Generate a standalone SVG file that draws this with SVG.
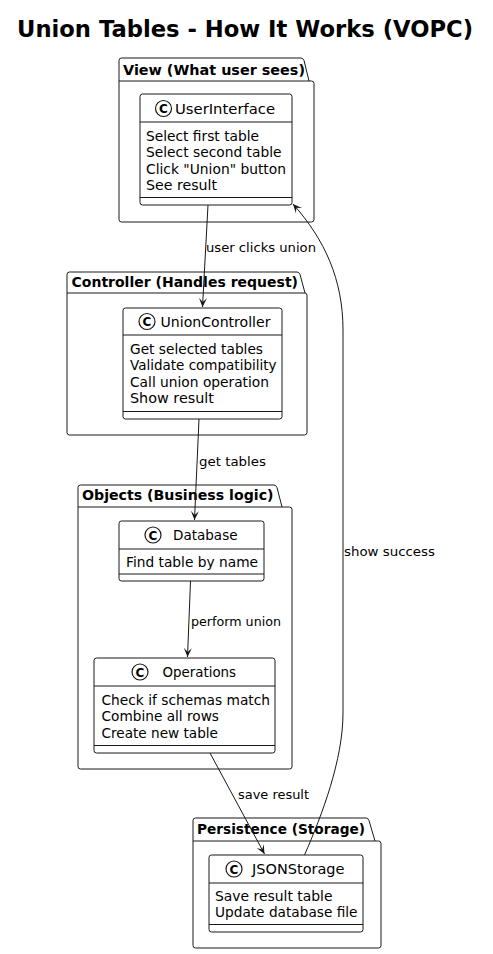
<svg xmlns="http://www.w3.org/2000/svg" width="493" height="954" viewBox="0 0 493 954">
<defs>
<style>
text{font-family:"DejaVu Sans","Liberation Sans",sans-serif;fill:#000}
.title{font-size:22.5px;font-weight:bold}
.pkg path{fill:#fff;stroke:#181818;stroke-width:1}
.pkg line{stroke:#181818;stroke-width:1}
.pl{font-size:14px;font-weight:bold}
.cls rect{fill:#fff;stroke:#181818;stroke-width:1}
.cls line{stroke:#181818;stroke-width:1}
.ci{fill:#fff;stroke:#181818;stroke-width:1.2}
.cc{font-size:12px;font-weight:bold;text-anchor:middle}
.cn{font-size:14px}
.at{font-size:14px}
.edge{fill:none;stroke:#181818;stroke-width:1}
.el{font-size:13px}
</style>
<marker id="arr" viewBox="-10 -5 11 10" markerWidth="11" markerHeight="10" refX="0" refY="0" orient="auto" markerUnits="userSpaceOnUse">
<path d="M0,0 L-9,-4 L-5,0 L-9,4 Z" fill="#181818"/>
</marker>
</defs>
<rect width="493" height="954" fill="#fff"/>
<text class="title" x="17" y="37" textLength="456" lengthAdjust="spacingAndGlyphs">Union Tables - How It Works (VOPC)</text>

<g id="pkg-view" class="pkg">
<path d="M119,60.5 Q119,58 121.5,58 L301,58 Q303,58 304,60.5 L309,81 L311.5,81 Q314,81 314,83.5 L314,219.5 Q314,222 311.5,222 L121.5,222 Q119,222 119,219.5 Z"/>
<line x1="119" y1="81" x2="309" y2="81"/>
<text class="pl" x="123" y="75" textLength="182" lengthAdjust="spacingAndGlyphs">View (What user sees)</text>
</g>
<g id="pkg-controller" class="pkg">
<path d="M67,274.5 Q67,272 69.5,272 L297,272 Q299,272 300,274.5 L305,293 L305,293 Q307,293 307,295.5 L307,432.5 Q307,435 304.5,435 L69.5,435 Q67,435 67,432.5 Z"/>
<line x1="67" y1="293" x2="305" y2="293"/>
<text class="pl" x="71.5" y="287" textLength="226.5" lengthAdjust="spacingAndGlyphs">Controller (Handles request)</text>
</g>
<g id="pkg-objects" class="pkg">
<path d="M78,487.5 Q78,485 80.5,485 L274,485 Q276,485 277,487.5 L282,507 L289.5,507 Q292,507 292,509.5 L292,766.5 Q292,769 289.5,769 L80.5,769 Q78,769 78,766.5 Z"/>
<line x1="78" y1="507" x2="282" y2="507"/>
<text class="pl" x="82" y="500" textLength="191.5" lengthAdjust="spacingAndGlyphs">Objects (Business logic)</text>
</g>
<g id="pkg-persistence" class="pkg">
<path d="M193,820.5 Q193,818 195.5,818 L366,818 Q368,818 369,820.5 L375,841 L378.5,841 Q381,841 381,843.5 L381,945.5 Q381,948 378.5,948 L195.5,948 Q193,948 193,945.5 Z"/>
<line x1="193" y1="841" x2="375" y2="841"/>
<text class="pl" x="197" y="834" textLength="168" lengthAdjust="spacingAndGlyphs">Persistence (Storage)</text>
</g>

<g id="UserInterface" class="cls">
<rect x="140" y="94" width="152" height="111" rx="2.5"/>
<line x1="140" y1="122" x2="292" y2="122"/>
<line x1="140" y1="197.5" x2="292" y2="197.5"/>
<circle class="ci" cx="163.5" cy="108.5" r="8"/>
<text class="cc" x="163.5" y="113">C</text>
<text class="cn" x="175" y="113.5" textLength="100" lengthAdjust="spacingAndGlyphs">UserInterface</text>
<text class="at" x="146" y="140.5" textLength="113" lengthAdjust="spacingAndGlyphs">Select first table</text>
<text class="at" x="146" y="157" textLength="135.5" lengthAdjust="spacingAndGlyphs">Select second table</text>
<text class="at" x="146" y="173.5" textLength="140" lengthAdjust="spacingAndGlyphs">Click "Union" button</text>
<text class="at" x="146" y="190" textLength="71" lengthAdjust="spacingAndGlyphs">See result</text>
</g>

<g id="UnionController" class="cls">
<rect x="123" y="308" width="159" height="111" rx="2.5"/>
<line x1="123" y1="335" x2="282" y2="335"/>
<line x1="123" y1="411.5" x2="282" y2="411.5"/>
<circle class="ci" cx="147" cy="321.5" r="8"/>
<text class="cc" x="147" y="326">C</text>
<text class="cn" x="160.5" y="326.5" textLength="110" lengthAdjust="spacingAndGlyphs">UnionController</text>
<text class="at" x="130" y="353.5" textLength="133" lengthAdjust="spacingAndGlyphs">Get selected tables</text>
<text class="at" x="130" y="370" textLength="146.5" lengthAdjust="spacingAndGlyphs">Validate compatibility</text>
<text class="at" x="130" y="386.5" textLength="139" lengthAdjust="spacingAndGlyphs">Call union operation</text>
<text class="at" x="130" y="403" textLength="84" lengthAdjust="spacingAndGlyphs">Show result</text>
</g>

<g id="Database" class="cls">
<rect x="119" y="521" width="145" height="60" rx="2.5"/>
<line x1="119" y1="549" x2="264" y2="549"/>
<line x1="119" y1="574" x2="264" y2="574"/>
<circle class="ci" cx="153" cy="535" r="8"/>
<text class="cc" x="153" y="539.5">C</text>
<text class="cn" x="173" y="540" textLength="64.5" lengthAdjust="spacingAndGlyphs">Database</text>
<text class="at" x="126" y="566.5" textLength="132" lengthAdjust="spacingAndGlyphs">Find table by name</text>
</g>

<g id="Operations" class="cls">
<rect x="94" y="658" width="181" height="95" rx="2.5"/>
<line x1="94" y1="686" x2="275" y2="686"/>
<line x1="94" y1="745.5" x2="275" y2="745.5"/>
<circle class="ci" cx="140" cy="672" r="8"/>
<text class="cc" x="140" y="676.5">C</text>
<text class="cn" x="162.5" y="677" textLength="73.5" lengthAdjust="spacingAndGlyphs">Operations</text>
<text class="at" x="101.5" y="704.5" textLength="168.5" lengthAdjust="spacingAndGlyphs">Check if schemas match</text>
<text class="at" x="101.5" y="721" textLength="117.5" lengthAdjust="spacingAndGlyphs">Combine all rows</text>
<text class="at" x="101.5" y="737.5" textLength="116.5" lengthAdjust="spacingAndGlyphs">Create new table</text>
</g>

<g id="JSONStorage" class="cls">
<rect x="209" y="855" width="154" height="77" rx="2.5"/>
<line x1="209" y1="883" x2="363" y2="883"/>
<line x1="209" y1="924.5" x2="363" y2="924.5"/>
<circle class="ci" cx="234" cy="869" r="8"/>
<text class="cc" x="234" y="873.5">C</text>
<text class="cn" x="252" y="874" textLength="92.5" lengthAdjust="spacingAndGlyphs">JSONStorage</text>
<text class="at" x="215" y="900.5" textLength="117.5" lengthAdjust="spacingAndGlyphs">Save result table</text>
<text class="at" x="215" y="917" textLength="142.5" lengthAdjust="spacingAndGlyphs">Update database file</text>
</g>

<g id="connectors">
<path class="edge" d="M208,205 L202.5,307" marker-end="url(#arr)"/>
<text class="el" x="206" y="252" textLength="110" lengthAdjust="spacingAndGlyphs">user clicks union</text>
<path class="edge" d="M199,419 L194.5,520" marker-end="url(#arr)"/>
<text class="el" x="199" y="466" textLength="67" lengthAdjust="spacingAndGlyphs">get tables</text>
<path class="edge" d="M190.5,581 L187.5,657" marker-end="url(#arr)"/>
<text class="el" x="191" y="626" textLength="90" lengthAdjust="spacingAndGlyphs">perform union</text>
<path class="edge" d="M210,753 L264.5,854" marker-end="url(#arr)"/>
<text class="el" x="238" y="799" textLength="71" lengthAdjust="spacingAndGlyphs">save result</text>
<path class="edge" d="M304.5,855 C322,815 343,760 343,713 L343,330 C343,280 325,240 293,204" marker-end="url(#arr)"/>
<text class="el" x="344" y="556" textLength="91" lengthAdjust="spacingAndGlyphs">show success</text>
</g>
</svg>
